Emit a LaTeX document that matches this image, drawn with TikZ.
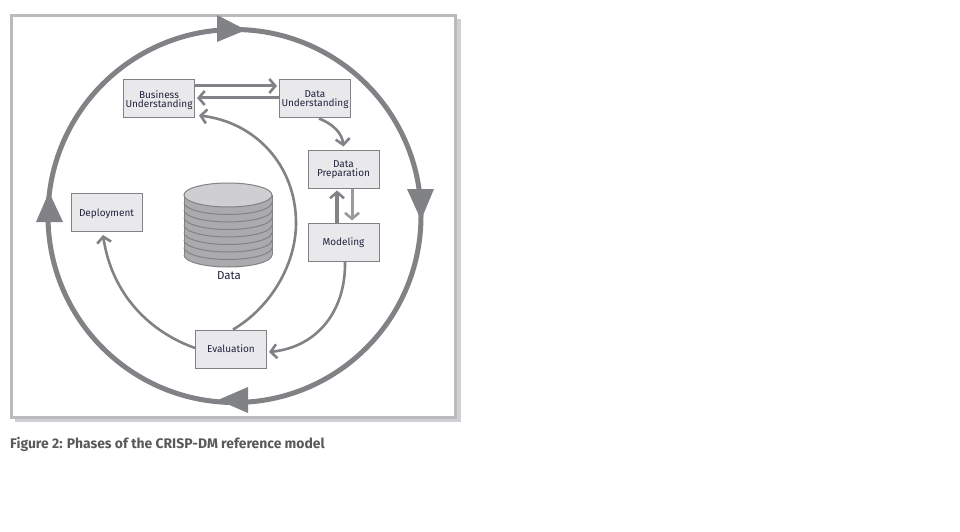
\documentclass[tikz,border=0pt]{standalone}
\usepackage{fontspec}
\setmainfont{Fira Sans}
\usetikzlibrary{positioning,arrows.meta}
\definecolor{ringgray}{HTML}{808285}
\definecolor{framegray}{HTML}{BBBBBF}
\definecolor{shadowgray}{HTML}{D0D0D3}
\definecolor{boxgray}{HTML}{E9E9EB}
\definecolor{drumgray}{HTML}{ABABAE}
\definecolor{lidgray}{HTML}{CFCFD1}
\definecolor{textnavy}{HTML}{1F2340}
\definecolor{captiongray}{HTML}{58595B}
\begin{document}
\begin{tikzpicture}
            [x=1pt, y=-1pt, font=\fontsize{10}{9}\selectfont,
            phase/.style={draw=ringgray, fill=boxgray, line width=1pt,
            minimum width=71pt, minimum height=38pt, inner sep=0pt,
            align=center, text=textnavy, text depth=-0.5pt},
            flow/.style={draw=ringgray, line width=2.6pt,
            -{Straight Barb[length=6pt,width=14pt,line width=2.6pt]}},
            bigtip/.style={fill=ringgray, draw=none}]
            \useasboundingbox (0,0) rectangle (960,532);
            % frame
            \fill[shadowgray] (15,19) rectangle (461,422);
            \draw[framegray, fill=white, line width=3pt] (11.5,15.5) rectangle (455.5,417.5);
            % outer cycle
            \draw[ringgray, line width=5pt] (234.5,216) circle [radius=186.5pt];
            \fill[bigtip] (217,15) -- (246,30) -- (217,42) -- cycle;
            \fill[bigtip] (407,189) -- (434,189) -- (421,220) -- cycle;
            \fill[bigtip] (248,387) -- (218,400) -- (248,413) -- cycle;
            \fill[bigtip] (36,222) -- (49,192) -- (63,222) -- cycle;
            % data store
            \fill[drumgray] (184,195) -- (184,255) arc [start angle=180, end angle=360, x radius=44pt, y radius=12pt] -- (272,195) -- cycle;
            \foreach \offs in {7.5,15,...,60} {
                \draw[ringgray, line width=1pt] (184,195+\offs) arc [start angle=180, end angle=360, x radius=44pt, y radius=12pt];
            }
            \draw[ringgray, line width=1pt] (184,195) -- (184,255) (272,195) -- (272,255);
            \draw[ringgray, fill=lidgray, line width=1pt] (228,195) ellipse [x radius=44pt, y radius=12pt];
            \node (data) at (229,276) [text=textnavy, font=\fontsize{11.5}{12}\selectfont] {Data};
            % phases
            \node (biz) at (159,99) [phase] {Business\\Understanding};
            \node (datau) [phase, right=84pt of biz] {Data\\Understanding};
            \node (prep) at (343.5,169) [phase] {Data\\Preparation};
            \node (model) [phase, below=34pt of prep, text depth=-1.5pt] {Modeling};
            \node (deploy) at (106.5,212.5) [phase] {Deployment};
            \node (eval) at (231,349) [phase, text depth=-2pt] {Evaluation};
            \coordinate (evalbend) at (296,223);
            % connectors
            \draw[flow, line width=3pt] ([yshift=13pt]biz.east) -- ([yshift=13pt,xshift=-2pt]datau.west);
            \draw[flow, line width=3pt] ([yshift=1pt]datau.west) -- ([yshift=1pt,xshift=2pt]biz.east);
            \draw[flow] ([xshift=4pt]datau.south) .. controls (333,124) and (342,133) .. ([yshift=3pt]prep.north);
            \draw[flow, line width=3pt, ringgray!80] ([xshift=8.5pt]prep.south) -- ([xshift=8.5pt,yshift=2pt]model.north);
            \draw[flow, line width=3.5pt] ([xshift=-6.5pt]model.north) -- ([xshift=-6.5pt,yshift=-2pt]prep.south);
            \draw[flow] ([xshift=1.5pt]model.south) .. controls (346,310) and (318,347) .. ([xshift=2pt,yshift=-3pt]eval.east);
            \draw[flow] ([yshift=1pt]eval.west) .. controls (150,332) and (112,295) .. ([xshift=-3.5pt,yshift=-3pt]deploy.south);
            \draw[flow] ([xshift=2pt]eval.north) .. controls (270,308) and (296,265) .. (evalbend)
                .. controls (296,165) and (255,122) .. ([xshift=4pt,yshift=3pt]biz.south east);
            % caption
            \node (caption) at (10,444) [anchor=west, inner sep=0pt, text=captiongray, font=\fontsize{13.9}{14}\selectfont\bfseries] {Figure 2: Phases of the CRISP-DM reference model};
\end{tikzpicture}
\end{document}
